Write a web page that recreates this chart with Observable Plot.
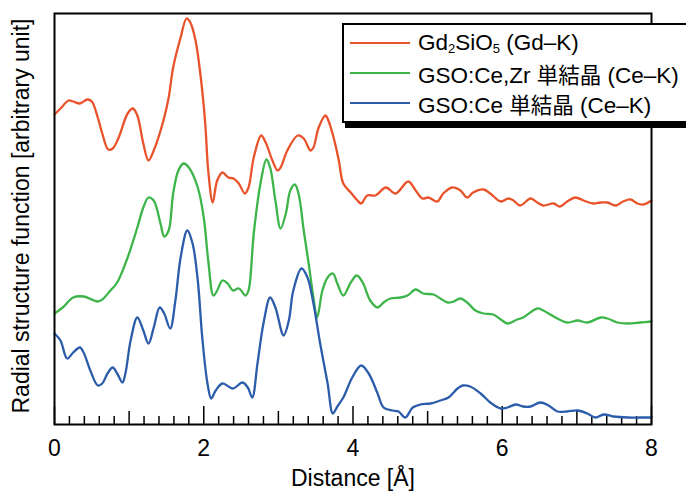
<!DOCTYPE html>
<html>
<head>
<meta charset="utf-8">
<script src="https://cdn.jsdelivr.net/npm/d3@7"></script>
<script src="https://cdn.jsdelivr.net/npm/@observablehq/plot@0.6"></script>
<style>
  body { margin: 0; background: #fff; overflow: hidden; }
  #wrap { position: relative; width: 686px; height: 491px; overflow: hidden;
          font-family: "Liberation Sans", Arial, "Noto Sans CJK JP", sans-serif; }
  .legend { position: absolute; left: 342px; top: 23px; width: 380px; height: 96px;
            background: #fff; border: 2px solid #000; box-shadow: 3px 5px 0 #000; }
  .row { position: absolute; left: 6px; height: 29px; display: flex; align-items: center;
         font-size: 22.5px; white-space: nowrap; color: #000; }
  .swatch { width: 60px; height: 0; border-top: 2.2px solid; margin-right: 8px; }
  .row sub { font-size: 13px; vertical-align: -3px; line-height: 0; }
  .cjk { font-family: "Noto Sans CJK JP", sans-serif; font-size: 21.5px; }
</style>
</head>
<body>
<div id="wrap"></div>
<script>
// Radial structure functions, distance in Å vs. amplitude (arbitrary units, curves offset)
const gdK = [
  [0,3.10],[0.08,3.16],[0.19,3.24],[0.25,3.23],[0.34,3.21],[0.44,3.25],[0.50,3.23],[0.58,3.07],
  [0.64,2.91],[0.72,2.75],[0.78,2.76],[0.86,2.87],[0.98,3.11],[1.05,3.16],[1.11,3.09],[1.19,2.81],
  [1.26,2.64],[1.33,2.74],[1.46,3.04],[1.53,3.27],[1.59,3.57],[1.69,3.87],[1.77,4.06],[1.82,4.02],
  [1.89,3.84],[1.96,3.47],[2.02,3.01],[2.06,2.54],[2.12,2.22],[2.18,2.44],[2.25,2.52],[2.33,2.47],
  [2.40,2.46],[2.47,2.41],[2.55,2.31],[2.60,2.37],[2.67,2.67],[2.77,2.89],[2.83,2.82],[2.92,2.64],
  [2.99,2.54],[3.03,2.57],[3.12,2.74],[3.26,2.89],[3.34,2.86],[3.43,2.74],[3.47,2.77],[3.54,2.97],
  [3.63,3.09],[3.67,3.04],[3.74,2.87],[3.81,2.64],[3.87,2.41],[3.97,2.32],[4.06,2.24],[4.11,2.21],
  [4.19,2.29],[4.30,2.29],[4.44,2.37],[4.57,2.31],[4.74,2.43],[4.84,2.34],[4.93,2.26],[5.01,2.27],
  [5.13,2.23],[5.21,2.31],[5.33,2.37],[5.44,2.34],[5.53,2.27],[5.61,2.32],[5.75,2.35],[5.84,2.31],
  [5.98,2.23],[6.08,2.26],[6.15,2.24],[6.24,2.19],[6.38,2.26],[6.47,2.22],[6.55,2.19],[6.69,2.21],
  [6.77,2.18],[6.87,2.23],[6.98,2.27],[7.09,2.24],[7.22,2.21],[7.32,2.22],[7.41,2.22],[7.52,2.19],
  [7.62,2.23],[7.72,2.25],[7.81,2.21],[7.89,2.20],[8.00,2.24]
];

const gsoCeZr = [
  [0,1.11],[0.11,1.17],[0.25,1.27],[0.39,1.28],[0.58,1.23],[0.64,1.25],[0.75,1.34],[0.84,1.42],
  [0.98,1.67],[1.11,1.97],[1.19,2.17],[1.26,2.27],[1.33,2.24],[1.42,2.01],[1.47,1.88],[1.53,1.94],
  [1.59,2.31],[1.66,2.54],[1.73,2.61],[1.80,2.57],[1.92,2.37],[2.00,2.07],[2.06,1.64],[2.13,1.29],
  [2.18,1.34],[2.25,1.44],[2.32,1.41],[2.39,1.34],[2.47,1.36],[2.56,1.29],[2.60,1.34],[2.67,1.91],
  [2.76,2.41],[2.84,2.65],[2.89,2.57],[2.96,2.24],[3.03,1.96],[3.10,2.11],[3.16,2.34],[3.22,2.40],
  [3.27,2.31],[3.34,1.94],[3.40,1.64],[3.47,1.27],[3.52,1.07],[3.59,1.34],[3.66,1.47],[3.73,1.51],
  [3.79,1.41],[3.87,1.29],[3.97,1.42],[4.05,1.49],[4.13,1.42],[4.23,1.24],[4.33,1.17],[4.41,1.22],
  [4.50,1.26],[4.64,1.27],[4.73,1.29],[4.84,1.35],[4.94,1.31],[5.08,1.30],[5.17,1.26],[5.27,1.22],
  [5.35,1.23],[5.44,1.26],[5.53,1.22],[5.64,1.14],[5.75,1.11],[5.88,1.10],[6.00,1.04],[6.07,1.01],
  [6.20,1.05],[6.28,1.07],[6.47,1.16],[6.55,1.14],[6.69,1.08],[6.87,1.02],[7.01,1.04],[7.14,1.02],
  [7.32,1.07],[7.41,1.06],[7.54,1.02],[7.69,1.01],[7.85,1.02],[8.00,1.03]
];

const gsoCe = [
  [0,0.91],[0.08,0.84],[0.17,0.66],[0.25,0.72],[0.34,0.77],[0.39,0.72],[0.48,0.54],[0.58,0.39],
  [0.64,0.41],[0.71,0.51],[0.78,0.57],[0.84,0.51],[0.91,0.42],[0.95,0.51],[1.02,0.84],[1.11,1.07],
  [1.19,0.94],[1.26,0.81],[1.33,0.97],[1.41,1.17],[1.47,1.11],[1.55,0.96],[1.62,1.24],[1.69,1.67],
  [1.78,1.94],[1.85,1.81],[1.92,1.44],[1.98,0.87],[2.05,0.41],[2.10,0.26],[2.16,0.34],[2.25,0.41],
  [2.39,0.36],[2.52,0.42],[2.59,0.37],[2.65,0.27],[2.72,0.61],[2.80,1.01],[2.89,1.27],[2.96,1.17],
  [3.07,0.89],[3.14,1.04],[3.20,1.34],[3.31,1.56],[3.39,1.47],[3.47,1.21],[3.56,0.81],[3.66,0.41],
  [3.73,0.11],[3.79,0.18],[3.87,0.27],[3.99,0.47],[4.11,0.59],[4.21,0.51],[4.33,0.31],[4.41,0.17],
  [4.53,0.14],[4.61,0.13],[4.70,0.07],[4.80,0.17],[4.90,0.20],[5.04,0.21],[5.17,0.24],[5.28,0.27],
  [5.40,0.36],[5.47,0.39],[5.57,0.38],[5.71,0.31],[5.84,0.22],[5.98,0.16],[6.07,0.17],[6.18,0.20],
  [6.28,0.18],[6.38,0.18],[6.51,0.22],[6.62,0.19],[6.74,0.13],[6.87,0.13],[7.01,0.14],[7.14,0.11],
  [7.25,0.07],[7.36,0.10],[7.49,0.08],[7.68,0.07],[7.85,0.07],[8.00,0.07]
];

const seriesNames = ["Gd₂SiO₅ (Gd–K)", "GSO:Ce,Zr 単結晶 (Ce–K)", "GSO:Ce 単結晶 (Ce–K)"];
const seriesColors = ["#e9532b", "#3db54a", "#2b5dab"];

// Axis: labelled ticks every 2 Å, half-way ticks every 1 Å, small ticks every 0.2 Å
const xTickLabels = [0, 2, 4, 6, 8];
const midTicks = [1, 3, 5, 7];
const smallTicks = d3.range(1, 40).map(i => i / 5).filter(v => Math.abs(v - Math.round(v)) > 1e-6);
const xLabel = "Distance [Å]";
const yLabel = "Radial structure function [arbitrary unit]";

const font = '"Liberation Sans", Arial, "Noto Sans CJK JP", sans-serif';
const curve = "catmull-rom";
const lineStyle = {x: d => d[0], y: d => d[1], strokeWidth: 2.3, curve};

const chart = Plot.plot({
  width: 686,
  height: 491,
  marginTop: 13,
  marginRight: 35,
  marginBottom: 67,
  marginLeft: 54,
  style: {fontFamily: font, fontSize: "23px", color: "#000", background: "transparent"},
  x: {domain: [0, 8], ticks: xTickLabels, tickSize: 0, tickPadding: 15, label: null},
  y: {domain: [0, 4.11], axis: null},
  marks: [
    Plot.tickX(smallTicks, {x: d => d, insetTop: 403, stroke: "#000", strokeWidth: 1.5}),
    Plot.tickX(midTicks, {x: d => d, insetTop: 398, stroke: "#000", strokeWidth: 1.5}),
    Plot.tickX(xTickLabels, {x: d => d, insetTop: 393, stroke: "#000", strokeWidth: 1.5}),
    Plot.line(gdK, {...lineStyle, stroke: seriesColors[0]}),
    Plot.line(gsoCeZr, {...lineStyle, stroke: seriesColors[1]}),
    Plot.line(gsoCe, {...lineStyle, stroke: seriesColors[2]}),
    Plot.frame({stroke: "#000", strokeWidth: 2}),
    Plot.text([xLabel], {frameAnchor: "bottom", lineAnchor: "middle", dy: 54, text: d => d, fontSize: 23}),
    Plot.text([yLabel], {frameAnchor: "left", textAnchor: "middle", lineAnchor: "middle",
                         dx: -33, dy: -3, rotate: -90, text: d => d, fontSize: 23})
  ]
});

const wrap = document.getElementById("wrap");
wrap.appendChild(chart);

// Boxed legend with a drop shadow, overlapping the upper-right of the frame
const legend = document.createElement("div");
legend.className = "legend";
const rowCenters = [18, 48, 78];
const labelsHtml = [
  'Gd<sub>2</sub>SiO<sub>5</sub> (Gd–K)',
  'GSO:Ce,Zr <span class="cjk">単結晶</span> (Ce–K)',
  'GSO:Ce <span class="cjk">単結晶</span> (Ce–K)'
];
seriesNames.forEach((name, i) => {
  const row = document.createElement("div");
  row.className = "row";
  row.style.top = (rowCenters[i] - 14.5) + "px";
  row.setAttribute("aria-label", name);
  const sw = document.createElement("span");
  sw.className = "swatch";
  sw.style.borderTopColor = seriesColors[i];
  const tx = document.createElement("span");
  tx.innerHTML = labelsHtml[i];
  row.append(sw, tx);
  legend.appendChild(row);
});
wrap.appendChild(legend);
</script>
</body>
</html>
